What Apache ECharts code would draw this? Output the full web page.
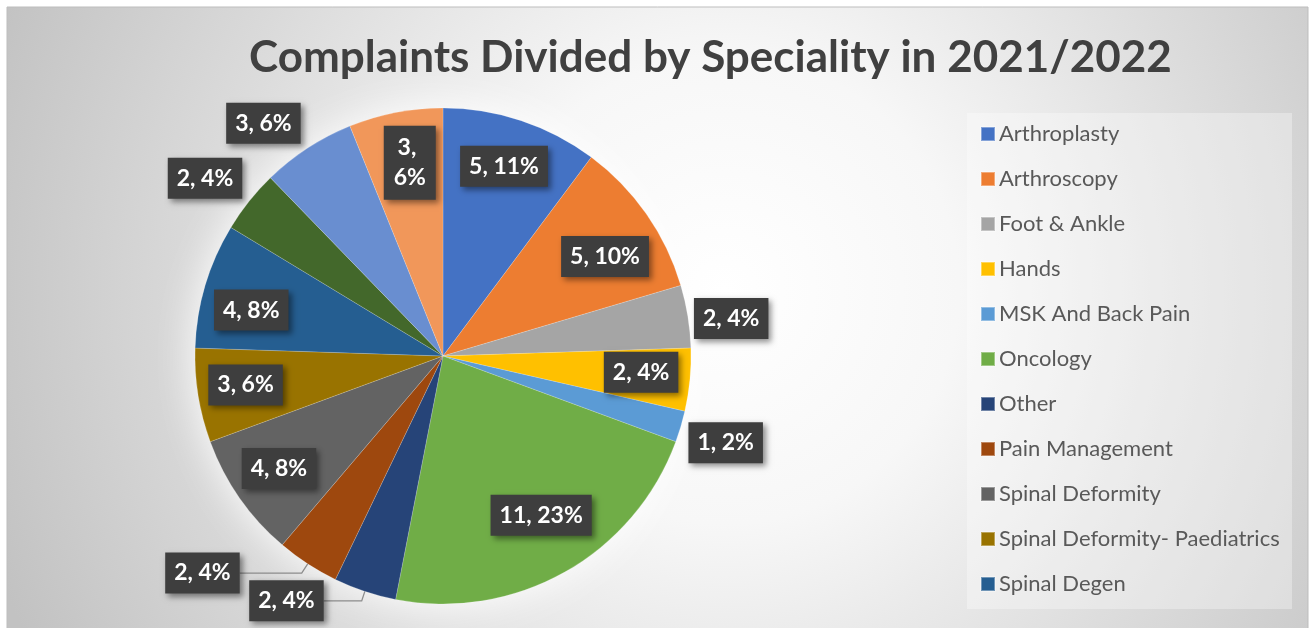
<!DOCTYPE html>
<html>
<head>
<meta charset="utf-8">
<title>Complaints Divided by Speciality in 2021/2022</title>
<script src="https://cdn.jsdelivr.net/npm/echarts@6/dist/echarts.min.js"></script>
<style>
  html, body { margin: 0; padding: 0; background: #ffffff; }
  #chart { width: 1312px; height: 628px; }
</style>
</head>
<body>
<div id="chart"></div>
<script>
// Complaints per speciality (count of complaints) and the share text shown on each slice
const categories = [
  'Arthroplasty', 'Arthroscopy', 'Foot & Ankle', 'Hands', 'MSK And Back Pain',
  'Oncology', 'Other', 'Pain Management', 'Spinal Deformity',
  'Spinal Deformity- Paediatrics', 'Spinal Degen', 'Spinal Trauma',
  'Sports Injury', 'Trauma'
];
const counts = [5, 5, 2, 2, 1, 11, 2, 2, 4, 3, 4, 2, 3, 3];
const shareLabels = ['11%', '10%', '4%', '4%', '2%', '23%', '4%', '4%', '8%', '6%', '8%', '4%', '6%', '6%'];
// Categories listed in the legend box
const legendNames = categories.slice(0, 11);

const colors = [
  '#4472C4', '#ED7D31', '#A5A5A5', '#FFC000', '#5B9BD5', '#70AD47',
  '#264478', '#9E480E', '#636363', '#997300', '#255E91', '#43682B',
  '#698ED0', '#F1975A'
];

// where each slice's label sits: inside the slice, just outside it, or outside with a leader line
const placement = ['in', 'in', 'out', 'in', 'out', 'in', 'line', 'line', 'in', 'in', 'in', 'out', 'out', 'in'];
const wrapped = [false, false, false, false, false, false, false, false, false, false, false, false, false, true];
// small nudges so the label boxes do not crowd the slice edges
const nudges = [[-2, 0], [-2, 15], [-6, 10], [-1, -3], [-3, 2], [0, -15], [0, 0], [0, 0],
                [0, -2], [0, -3], [0, 11], [-5, 8], [-17, 17], [5, 3]];
const leader = {
  6: { length: 10, length2: 38 },
  7: { length: 11, length2: 62 }
};

const CENTER = [443, 356];
const RADIUS = 248;
const FONT = 'Lato, "Open Sans", "DejaVu Sans", sans-serif';

const labelBox = {
  color: '#ffffff',
  fontFamily: FONT,
  fontWeight: 'bold',
  fontSize: 23,
  lineHeight: 27,
  backgroundColor: '#3e3e3e',
  padding: [7, 9],
  shadowColor: 'rgba(0,0,0,0.45)',
  shadowBlur: 6,
  shadowOffsetX: 3,
  shadowOffsetY: 3,
  rotate: 0,
  formatter: (p) => counts[p.dataIndex] + ', ' + shareLabels[p.dataIndex]
};

function itemsFor(kind) {
  return categories.map((name, i) => {
    const shown = placement[i] === kind;
    const label = Object.assign({}, labelBox, { show: shown });
    if (wrapped[i]) { label.width = 34; label.overflow = 'break'; label.align = 'center'; label.lineHeight = 30; }
    const item = { name: name, value: counts[i], label: label };
    if (kind === 'line' && shown) {
      item.labelLine = Object.assign({ show: true }, leader[i]);
    }
    return item;
  });
}

const nudge = (p) => ({ dx: nudges[p.dataIndex][0], dy: nudges[p.dataIndex][1] });

const chart = echarts.init(document.getElementById('chart'), null, { renderer: 'canvas' });

const option = {
  animation: false,
  backgroundColor: '#ffffff',
  color: colors,
  graphic: [
    {
      type: 'rect', z: -10, silent: true,
      shape: { x: 7, y: 7, width: 1301, height: 625 },
      style: {
        fill: {
          type: 'radial', x: 725, y: 290, r: 780, global: true,
          colorStops: [
            { offset: 0, color: '#ffffff' },
            { offset: 0.3, color: '#f7f7f7' },
            { offset: 0.65, color: '#dcdcdc' },
            { offset: 1, color: '#c2c2c2' }
          ]
        },
        stroke: '#bdbdbd', lineWidth: 1
      }
    },
    {
      type: 'rect', z: -9, silent: true,
      shape: { x: 967, y: 113, width: 325, height: 496 },
      style: { fill: 'rgba(255,255,255,0.32)' }
    }
  ],
  title: {
    text: 'Complaints Divided by Speciality in 2021/2022',
    left: 249,
    top: 32,
    padding: 0,
    textStyle: {
      fontFamily: FONT,
      fontWeight: 'bold',
      fontSize: 44,
      lineHeight: 52,
      color: '#404040'
    }
  },
  legend: {
    data: legendNames,
    orient: 'vertical',
    left: 980,
    top: 122,
    padding: 0,
    itemGap: 21,
    itemWidth: 14,
    itemHeight: 14,
    icon: 'rect',
    selectedMode: false,
    textStyle: {
      fontFamily: FONT,
      fontSize: 22,
      lineHeight: 24,
      color: '#595959',
      padding: [0, 0, 0, -1]
    }
  },
  series: [
    {
      // soft white glow behind the pie
      type: 'pie', silent: true, z: 1,
      center: CENTER, radius: RADIUS,
      label: { show: false }, labelLine: { show: false },
      data: [{ name: '', value: 1 }],
      itemStyle: { color: '#ffffff', shadowBlur: 40, shadowColor: 'rgba(255,255,255,1)' }
    },
    {
      type: 'pie', z: 2,
      center: CENTER, radius: RADIUS,
      startAngle: 90, clockwise: true,
      avoidLabelOverlap: false,
      itemStyle: { borderColor: 'rgba(255,255,255,0.35)', borderWidth: 0.5 },
      label: Object.assign({}, labelBox, { position: 'outside', distanceToLabelLine: 0 }),
      labelLine: { show: false, lineStyle: { color: '#8c8c8c', width: 1.3 } },
      emphasis: { disabled: true },
      data: itemsFor('line')
    },
    {
      // label ring for the labels placed inside the slices
      type: 'pie', z: 3, silent: true,
      center: CENTER, radius: [146, RADIUS],
      startAngle: 90, clockwise: true,
      avoidLabelOverlap: false,
      itemStyle: { color: 'rgba(0,0,0,0)' },
      label: Object.assign({}, labelBox, { position: 'inside' }),
      labelLine: { show: false },
      labelLayout: nudge,
      emphasis: { disabled: true },
      data: itemsFor('in')
    },
    {
      // label ring for the labels just beyond the rim
      type: 'pie', z: 3, silent: true,
      center: CENTER, radius: [RADIUS + 2, 340],
      startAngle: 90, clockwise: true,
      avoidLabelOverlap: false,
      itemStyle: { color: 'rgba(0,0,0,0)' },
      label: Object.assign({}, labelBox, { position: 'inside' }),
      labelLine: { show: false },
      labelLayout: nudge,
      emphasis: { disabled: true },
      data: itemsFor('out')
    }
  ]
};

chart.setOption(option);
</script>
</body>
</html>
